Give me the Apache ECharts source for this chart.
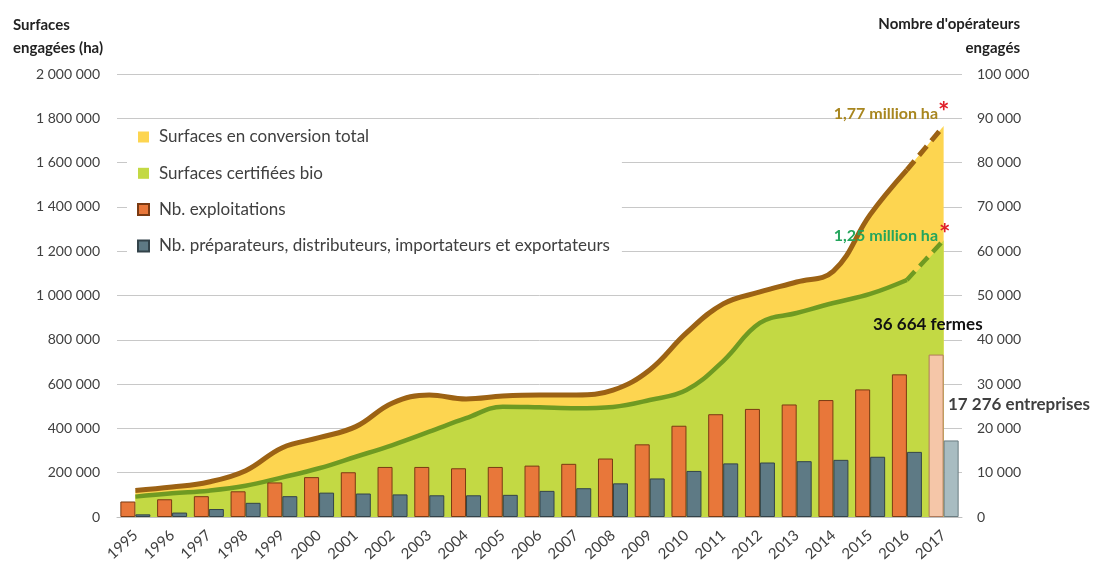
<!DOCTYPE html>
<html>
<head>
<meta charset="utf-8">
<script src="https://cdn.jsdelivr.net/npm/echarts@6/dist/echarts.min.js"></script>
<style>
html,body{margin:0;padding:0;background:#fff;}
#chart{width:1109px;height:566px;}
</style>
</head>
<body>
<div id="chart"></div>
<script>
const years = ['1995','1996','1997','1998','1999','2000','2001','2002','2003','2004','2005','2006','2007','2008','2009','2010','2011','2012','2013','2014','2015','2016','2017'];
const surfTotal = [120000,135000,158000,209000,313000,358000,408000,515000,551000,533000,546000,551000,551000,573000,664000,831000,962000,1016000,1061000,1110000,1365000,1567000,1765000];
const surfBio = [92000,107000,119000,141000,179000,220000,272000,325000,385000,446000,498000,495000,491000,497000,528000,573000,704000,876000,921000,966000,1007000,1070000,1250000];
const farms = [3500,4000,4700,5800,7800,9000,10100,11300,11300,11000,11300,11600,12000,13200,16400,20600,23200,24400,25400,26400,28800,32200,36664];
const operators = [600,1000,1800,3200,4700,5500,5300,5100,4900,4900,5000,5900,6500,7600,8700,10400,12100,12300,12600,12900,13600,14700,17276];
const seriesNames = ['Surfaces en conversion total','Surfaces certifiées bio','Nb. exploitations','Nb. préparateurs, distributeurs, importateurs et exportateurs'];
const leftAxisName = ['Surfaces','engagées (ha)'];
const rightAxisName = ["Nombre d'opérateurs",'engagés'];
const notes = ['1,77 million ha','1,25 million ha','36 664 fermes','17 276 entreprises'];

const FONT = 'Lato, "Noto Sans", sans-serif';
const fmt = v => String(v).replace(/\B(?=(\d{3})+(?!\d))/g, ' ');
const last = years.length - 1;
const solidPart = arr => arr.map((v,i) => i < last ? v : null);
const dashPart = arr => arr.map((v,i) => i >= last - 1 ? v : null);

const chart = echarts.init(document.getElementById('chart'));
const option = {
  animation: false,
  backgroundColor: '#ffffff',
  textStyle: { fontFamily: FONT },
  grid: { left: 117, right: 147, top: 74, bottom: 49, containLabel: false },
  legend: {
    data: seriesNames,
    orient: 'vertical',
    left: 127, top: 121,
    padding: [6, 12, 8, 10],
    backgroundColor: '#ffffff',
    itemWidth: 11, itemHeight: 11,
    itemGap: 16.3,
    icon: 'rect',
    textStyle: { fontFamily: FONT, fontSize: 17, color: '#404040', lineHeight: 20, padding: [0,0,0,5] }
  },
  xAxis: {
    type: 'category',
    data: years,
    boundaryGap: true,
    axisLine: { show: true, lineStyle: { color: '#bfbfbf', width: 1 } },
    axisTick: { show: false },
    axisLabel: { rotate: 42, margin: 16, fontSize: 15, color: '#404040', fontFamily: FONT }
  },
  yAxis: [
    {
      type: 'value', min: 0, max: 2000000, interval: 200000,
      axisLine: { show: false }, axisTick: { show: false },
      splitLine: { lineStyle: { color: '#c8c8c8', width: 1 } },
      axisLabel: { formatter: fmt, fontSize: 14, color: '#404040', margin: 17, fontFamily: FONT }
    },
    {
      type: 'value', min: 0, max: 100000, interval: 10000,
      axisLine: { show: false }, axisTick: { show: false },
      splitLine: { show: false },
      axisLabel: { formatter: fmt, fontSize: 14, color: '#404040', margin: 15, fontFamily: FONT }
    }
  ],
  series: [
    {
      name: seriesNames[0], type: 'line', yAxisIndex: 0, data: surfTotal, smooth: 0.4,
      symbol: 'none', z: 1,
      itemStyle: { color: '#fdd550' },
      lineStyle: { width: 0 },
      areaStyle: { color: '#fdd550', opacity: 1 }
    },
    {
      name: seriesNames[1], type: 'line', yAxisIndex: 0, data: surfBio, smooth: 0.4,
      symbol: 'none', z: 2,
      itemStyle: { color: '#c3d944' },
      lineStyle: { width: 0 },
      areaStyle: { color: '#c3d944', opacity: 1 }
    },
    {
      name: 'totalLine', type: 'line', yAxisIndex: 0, data: solidPart(surfTotal), smooth: 0.4,
      symbol: 'none', z: 3, lineStyle: { color: '#9c6214', width: 5 }
    },
    {
      name: 'totalDash', type: 'line', yAxisIndex: 0, data: dashPart(surfTotal), smooth: 0.4,
      symbol: 'none', z: 3, lineStyle: { color: '#9c6214', width: 5, type: [12, 7] }
    },
    {
      name: 'bioLine', type: 'line', yAxisIndex: 0, data: solidPart(surfBio), smooth: 0.4,
      symbol: 'none', z: 3, lineStyle: { color: '#6f9a22', width: 4.5 }
    },
    {
      name: 'bioDash', type: 'line', yAxisIndex: 0, data: dashPart(surfBio), smooth: 0.4,
      symbol: 'none', z: 3, lineStyle: { color: '#6f9a22', width: 4.5, type: [12, 7] }
    },
    {
      name: seriesNames[2], type: 'bar', yAxisIndex: 1, barWidth: 15, barGap: '0%', z: 4,
      itemStyle: { color: '#e8773a', borderColor: '#7a3a12', borderWidth: 1 },
      data: farms.map((v,i) => i === last ? { value: v, itemStyle: { color: '#f5c6a8', borderColor: '#b07a5a' } } : v)
    },
    {
      name: seriesNames[3], type: 'bar', yAxisIndex: 1, barWidth: 15, barGap: '0%', z: 4,
      itemStyle: { color: '#5e7a85', borderColor: '#33434a', borderWidth: 1 },
      data: operators.map((v,i) => i === last ? { value: v, itemStyle: { color: '#a8bcc1', borderColor: '#6a7c80' } } : v)
    }
  ],
  graphic: [
    { type: 'text', z: 100, left: 13, top: 14, style: { text: leftAxisName.join('\n'), font: 'bold 15px ' + FONT, fill: '#222', lineHeight: 23 } },
    { type: 'text', z: 100, x: 1020, y: 12, style: { text: rightAxisName.join('\n'), font: 'bold 15px ' + FONT, fill: '#222', lineHeight: 24, align: 'right', verticalAlign: 'top' } },
    { type: 'text', z: 100, x: 938, y: 114, style: { text: notes[0], font: 'bold 16px ' + FONT, fill: '#a8861f', align: 'right', verticalAlign: 'middle' } },
    { type: 'text', z: 100, x: 938, y: 112, style: { text: '*', font: 'bold 27px ' + FONT, fill: '#e0202a', align: 'left', verticalAlign: 'middle' } },
    { type: 'text', z: 100, x: 938, y: 236, style: { text: notes[1], font: 'bold 16px ' + FONT, fill: '#24a55c', align: 'right', verticalAlign: 'middle' } },
    { type: 'text', z: 100, x: 939, y: 234, style: { text: '*', font: 'bold 27px ' + FONT, fill: '#e0202a', align: 'left', verticalAlign: 'middle' } },
    { type: 'text', z: 100, x: 873, y: 325, style: { text: notes[2], font: 'bold 17px ' + FONT, fill: '#111', align: 'left', verticalAlign: 'middle' } },
    { type: 'text', z: 100, x: 948, y: 405, style: { text: notes[3], font: 'bold 17px ' + FONT, fill: '#3f3f3f', align: 'left', verticalAlign: 'middle' } }
  ]
};
chart.setOption(option);
</script>
</body>
</html>
